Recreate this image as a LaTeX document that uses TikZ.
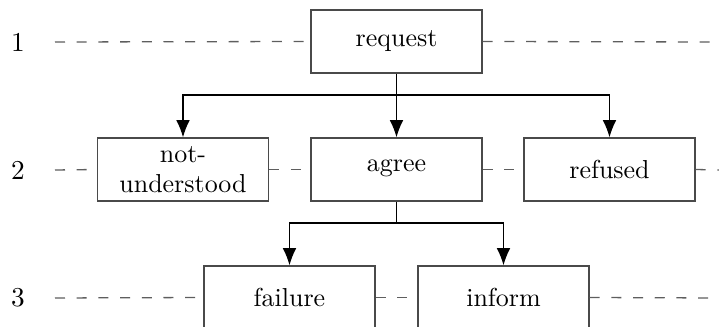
\documentclass[tikz,border=0pt]{standalone}
\usetikzlibrary{arrows.meta}
\definecolor{boxgray}{HTML}{4A4A4A}
\definecolor{dashgray}{HTML}{5E5E5E}
\begin{document}
\begin{tikzpicture}[x=0.385pt,y=-0.385pt,
  msgbox/.style={draw=boxgray,line width=0.5pt,minimum width=171*0.385pt,minimum height=63*0.385pt,inner sep=0pt,align=center,font=\fontsize{10}{11.5}\selectfont},
  lifeline/.style={draw=dashgray,line width=0.5pt,dash pattern=on 10*0.385pt off 11.7*0.385pt},
  flow/.style={draw=black,line width=0.45pt,-{Latex[length=6.6pt,width=5.2pt]}},
  rowlabel/.style={font=\fontsize{10.5}{12}\selectfont}]
\useasboundingbox (0,0) rectangle (719,327);
% nodes
\node[msgbox] (request) at (396.5,41.5) {request};
\node[msgbox] (notund) at (183,169.5) {not-\\understood};
\node[msgbox] (agree) at (396.5,169.5) {\raisebox{2.7pt}{agree}};
\node[msgbox] (refused) at (609.5,169.5) {refused};
\node[msgbox] (failure) at (289.5,297.5) {failure};
\node[msgbox] (inform) at (503.5,297.5) {inform};
% row labels
\node[rowlabel] (r1) at (18,42) {1};
\node[rowlabel] (r2) at (18,170) {2};
\node[rowlabel] (r3) at (18,298) {3};
\coordinate (l1s) at (55,42);
\coordinate (l1e) at (719,42);
\coordinate (l2s) at (55,170);
\coordinate (l2e) at (719,170);
\coordinate (l3s) at (55,298);
\coordinate (l3e) at (719,298);
% lifelines
\draw[lifeline] (l1s) -- (request.west);
\draw[lifeline] (request.east) -- (l1e);
\draw[lifeline] (l2s) -- (notund.west);
\draw[lifeline] (notund.east) -- (agree.west);
\draw[lifeline] (agree.east) -- (refused.west);
\draw[lifeline] (refused.east) -- (l2e);
\draw[lifeline] (l3s) -- (failure.west);
\draw[lifeline] (failure.east) -- (inform.west);
\draw[lifeline] (inform.east) -- (l3e);
% connectors
\coordinate (b1) at (396.5,95);
\coordinate (b2) at (396.5,223);
\draw[line width=0.45pt] (request.south) -- (b1);
\draw[flow] (b1) -- (agree.north);
\draw[flow] (b1) -| (notund.north);
\draw[flow] (b1) -| (refused.north);
\draw[line width=0.45pt] (agree.south) -- (b2);
\draw[flow] (b2) -| (failure.north);
\draw[flow] (b2) -| (inform.north);
\end{tikzpicture}
\end{document}
